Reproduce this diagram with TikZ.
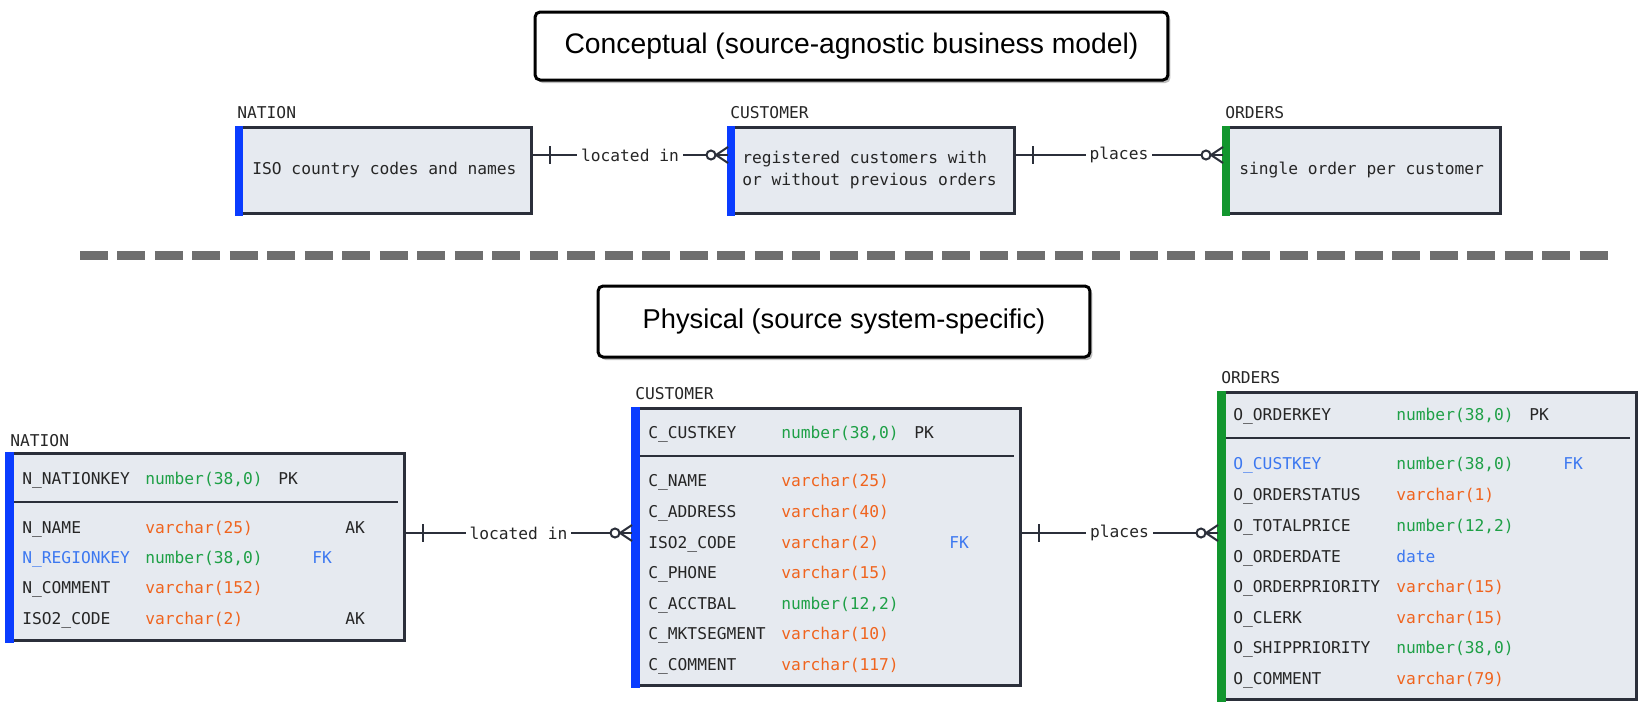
\documentclass[tikz,border=0pt]{standalone}
\usepackage{fontspec}
\setmainfont{Liberation Sans}
\setmonofont{DejaVu Sans Mono}
\usepackage{xcolor}
\usepackage{tikz}
\usetikzlibrary{positioning}
\usetikzlibrary{calc,shadows}

\definecolor{erfill}{HTML}{E6EAF0}
\definecolor{erline}{HTML}{2B2F3A}
\definecolor{erblue}{HTML}{0A3CFF}
\definecolor{ergreen}{HTML}{12962E}
\definecolor{ervarchar}{HTML}{F0641E}
\definecolor{ernumber}{HTML}{1EA046}
\definecolor{erfk}{HTML}{3C78F0}
\definecolor{erdash}{HTML}{6E6E6E}

\newcommand{\vc}[1]{\textcolor{ervarchar}{#1}}
\newcommand{\nb}[1]{\textcolor{ernumber}{#1}}
\newcommand{\fk}[1]{\textcolor{erfk}{#1}}
\newcommand{\fld}[4]{\makebox[#1][l]{#2}\makebox[2.66cm][l]{#3}#4}
% zero-or-many end (entity on the right) and one end (entity on the left)
\newcommand{\crowfoot}[1]{%
  \draw[relline] ($(#1)+(-12,0)$) -- ++(12,-8) ($(#1)+(-12,0)$) -- ++(12,8);
  \draw[relline,fill=white] ($(#1)+(-17,0)$) circle (0.09cm);}
\newcommand{\onebar}[1]{\draw[relline] ($(#1)+(18,-9)$) -- ++(0,18);}

\tikzset{
  entbox/.style = {draw=erline, line width=0.06cm, fill=erfill, inner sep=0pt, outer sep=0pt, anchor=north west},
  headbox/.style = {draw=black, line width=0.06cm, rounded corners=0.1cm, fill=white,
                    drop shadow={shadow xshift=0.05cm, shadow yshift=-0.06cm, fill=black!50, opacity=0.5}},
  enttitle/.style = {anchor=base west, inner sep=0pt, text=black!85, font=\ttfamily\fontsize{9.25}{11}\selectfont},
  fldrow/.style = {anchor=base west, inner sep=0pt, text=black!85, font=\ttfamily\fontsize{9.25}{11}\selectfont},
  desc/.style = {anchor=west, inner sep=0pt, text=black!85, align=left, font=\ttfamily\fontsize{9.25}{13}\selectfont},
  relline/.style = {draw=erline, line width=0.04cm},
  rellbl/.style = {fill=white, inner sep=0.08cm, text=black!85, font=\ttfamily\fontsize{9.25}{11}\selectfont},
  sepln/.style = {erline, line width=0.04cm},
  sepdash/.style = {erdash, line width=0.18cm, dash pattern=on 0.56cm off 0.19cm}
}

\begin{document}
\begin{tikzpicture}[x=0.02cm, y=-0.02cm]
    \useasboundingbox[fill=white] (0,0) rectangle (1642,708);

    % conceptual
    \node[headbox, minimum width=12.66cm, minimum height=1.36cm, font=\fontsize{16.1}{20}\selectfont] (tcon) at (851.5,46) {Conceptual (source-agnostic business model)};

    \node[enttitle] (cnatt) at (237,118) {NATION};
    \node[enttitle] (ccust) at (730,118) {CUSTOMER};
    \node[enttitle] (cordt) at (1225,118) {ORDERS};

    \node[entbox, minimum width=5.92cm, minimum height=1.74cm] (cnat) at (236,127) {};
    \node[entbox, minimum width=5.74cm, minimum height=1.74cm] (ccus) at (728,127) {};
    \node[entbox, minimum width=5.56cm, minimum height=1.74cm] (cord) at (1223,127) {};
    \fill[erblue] (cnat.north west) ++(-1,-1.5) rectangle ++(8,90);
    \fill[erblue] (ccus.north west) ++(-1,-1.5) rectangle ++(8,90);
    \fill[ergreen] (cord.north west) ++(-1,-1.5) rectangle ++(8,90);

    \node[desc] (cnatd) at (252,170) {ISO country codes and names};
    \node[desc] (ccusd) at (742,170) {registered customers with\\or without previous orders};
    \node[desc] (cordd) at (1239,170) {single order per customer};

    \coordinate (c1) at (630,155);
    \coordinate (c2) at (1119,155);
    \coordinate (c1a) at (cnat.east |- c1);
    \coordinate (c1b) at (ccus.west |- c1);
    \coordinate (c2a) at (ccus.east |- c2);
    \coordinate (c2b) at (cord.west |- c2);
    \draw[relline] (c1a) -- node[rellbl] (cl1) {located in} (c1b);
    \draw[relline] (c2a) -- node[rellbl] (cl2) {places} (c2b);
    \onebar{c1a} \crowfoot{c1b}
    \onebar{c2a} \crowfoot{c2b}

    \draw[sepdash] (80,255) -- (1613,255);

    % physical
    \node[headbox, minimum width=9.84cm, minimum height=1.42cm, font=\fontsize{15.5}{19}\selectfont] (tphy) at (844,321.5) {Physical (source system-specific)};

    \node[enttitle] (pnatt) at (10,446) {NATION};
    \node[enttitle] (pcust) at (635,399) {CUSTOMER};
    \node[enttitle] (pordt) at (1221,383) {ORDERS};

    \node[entbox, minimum width=7.98cm, minimum height=3.76cm] (pnat) at (6,453) {};
    \node[entbox, minimum width=7.78cm, minimum height=5.56cm] (pcus) at (632,408) {};
    \node[entbox, minimum width=8.38cm, minimum height=6.16cm] (pord) at (1218,392) {};
    \fill[erblue] (pnat.north west) ++(-1,-1.5) rectangle ++(9,191);
    \fill[erblue] (pcus.north west) ++(-1,-1.5) rectangle ++(9,281);
    \fill[ergreen] (pord.north west) ++(-1,-1.5) rectangle ++(9,311);

    % NATION
    \node[fldrow] (n0) at (22,484) {\fld{2.46cm}{N\_NATIONKEY}{\nb{number(38,0)}}{PK}};
    \draw[sepln] (14,502) -- (398,502);
    \node[fldrow] (n1) at (22,533) {\fld{2.46cm}{N\_NAME}{\vc{varchar(25)}}{\hspace{1.34cm}AK}};
    \node[fldrow] (n2) at (22,563) {\fld{2.46cm}{\fk{N\_REGIONKEY}}{\nb{number(38,0)}}{\hspace{0.68cm}\fk{FK}}};
    \node[fldrow] (n3) at (22,593) {\fld{2.46cm}{N\_COMMENT}{\vc{varchar(152)}}{}};
    \node[fldrow] (n4) at (22,624) {\fld{2.46cm}{ISO2\_CODE}{\vc{varchar(2)}}{\hspace{1.34cm}AK}};

    % CUSTOMER
    \node[fldrow] (u0) at (648,438) {\fld{2.66cm}{C\_CUSTKEY}{\nb{number(38,0)}}{PK}};
    \draw[sepln] (640,456) -- (1014,456);
    \node[fldrow] (u1) at (648,486) {\fld{2.66cm}{C\_NAME}{\vc{varchar(25)}}{}};
    \node[fldrow] (u2) at (648,517) {\fld{2.66cm}{C\_ADDRESS}{\vc{varchar(40)}}{}};
    \node[fldrow] (u3) at (648,548) {\fld{2.66cm}{ISO2\_CODE}{\vc{varchar(2)}}{\hspace{0.7cm}\fk{FK}}};
    \node[fldrow] (u4) at (648,578) {\fld{2.66cm}{C\_PHONE}{\vc{varchar(15)}}{}};
    \node[fldrow] (u5) at (648,609) {\fld{2.66cm}{C\_ACCTBAL}{\nb{number(12,2)}}{}};
    \node[fldrow] (u6) at (648,639) {\fld{2.66cm}{C\_MKTSEGMENT}{\vc{varchar(10)}}{}};
    \node[fldrow] (u7) at (648,670) {\fld{2.66cm}{C\_COMMENT}{\vc{varchar(117)}}{}};

    % ORDERS
    \node[fldrow] (o0) at (1233,420) {\fld{3.26cm}{O\_ORDERKEY}{\nb{number(38,0)}}{PK}};
    \draw[sepln] (1226,438) -- (1630,438);
    \node[fldrow] (o1) at (1233,469) {\fld{3.26cm}{\fk{O\_CUSTKEY}}{\nb{number(38,0)}}{\hspace{0.68cm}\fk{FK}}};
    \node[fldrow] (o2) at (1233,500) {\fld{3.26cm}{O\_ORDERSTATUS}{\vc{varchar(1)}}{}};
    \node[fldrow] (o3) at (1233,531) {\fld{3.26cm}{O\_TOTALPRICE}{\nb{number(12,2)}}{}};
    \node[fldrow] (o4) at (1233,562) {\fld{3.26cm}{O\_ORDERDATE}{\fk{date}}{}};
    \node[fldrow] (o5) at (1233,592) {\fld{3.26cm}{O\_ORDERPRIORITY}{\vc{varchar(15)}}{}};
    \node[fldrow] (o6) at (1233,623) {\fld{3.26cm}{O\_CLERK}{\vc{varchar(15)}}{}};
    \node[fldrow] (o7) at (1233,653) {\fld{3.26cm}{O\_SHIPPRIORITY}{\nb{number(38,0)}}{}};
    \node[fldrow] (o8) at (1233,684) {\fld{3.26cm}{O\_COMMENT}{\vc{varchar(79)}}{}};

    \coordinate (p1) at (518,533);
    \coordinate (p2) at (1120,533);
    \coordinate (p1a) at (pnat.east |- p1);
    \coordinate (p1b) at (pcus.west |- p1);
    \coordinate (p2a) at (pcus.east |- p2);
    \coordinate (p2b) at (pord.west |- p2);
    \draw[relline] (p1a) -- node[rellbl] (pl1) {located in} (p1b);
    \draw[relline] (p2a) -- node[rellbl] (pl2) {places} (p2b);
    \onebar{p1a} \crowfoot{p1b}
    \onebar{p2a} \crowfoot{p2b}
\end{tikzpicture}
\end{document}
